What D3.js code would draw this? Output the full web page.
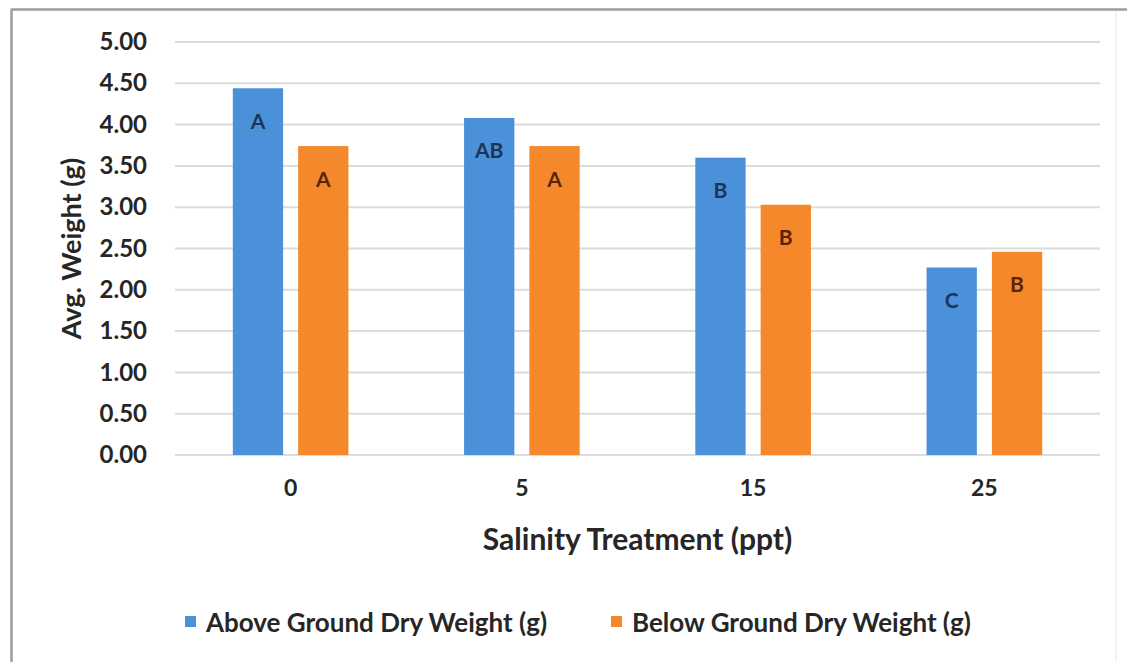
<!DOCTYPE html>
<html><head><meta charset="utf-8">
<script src="https://cdn.jsdelivr.net/npm/d3@7"></script>
<style>body{margin:0;background:#fff}svg{display:block}</style>
</head><body>
<svg id="c" width="1127" height="662"></svg>
<script>
const categories = ["0", "5", "15", "25"];
const seriesNames = ["Above Ground Dry Weight (g)", "Below Ground Dry Weight (g)"];
const aboveValues = [4.44, 4.08, 3.60, 2.27];
const belowValues = [3.74, 3.74, 3.03, 2.46];
const aboveLetters = ["A", "AB", "B", "C"];
const belowLetters = ["A", "A", "B", "B"];
const yTicks = [0, 0.5, 1, 1.5, 2, 2.5, 3, 3.5, 4, 4.5, 5];

const colors = ["#4b91da", "#f4882b"];
const letterColors = ["#1c3557", "#5a2409"];
const font = "Lato, 'Open Sans', sans-serif";

const svg = d3.select("#c");
const W = 1127, H = 662;
svg.append("rect").attr("width", W).attr("height", H).attr("fill", "#fff");

// outer frame
svg.append("line").attr("x1", 11).attr("x2", W).attr("y1", 9.5).attr("y2", 9.5).attr("stroke", "#9d9d9d").attr("stroke-width", 2.5);
svg.append("line").attr("x1", 11.5).attr("x2", 11.5).attr("y1", 9).attr("y2", H).attr("stroke", "#9d9d9d").attr("stroke-width", 2.5);
svg.append("line").attr("x1", 1116).attr("x2", 1116).attr("y1", 11).attr("y2", H).attr("stroke", "#f0f0f0").attr("stroke-width", 1.5);

const m = {left: 175, right: 1100, top: 42, bottom: 455};
const x = d3.scaleBand().domain(categories).range([m.left, m.right]).paddingInner(0.5).paddingOuter(0.25);
const xs = d3.scaleBand().domain([0, 1]).range([0, x.bandwidth()]).paddingInner(0.23);
const y = d3.scaleLinear().domain([0, 5]).range([m.bottom, m.top]);

// gridlines
svg.append("g").selectAll("line").data(yTicks).join("line")
  .attr("x1", m.left).attr("x2", m.right)
  .attr("y1", d => y(d)).attr("y2", d => y(d))
  .attr("stroke", "#dcdcdc").attr("stroke-width", 2);

// y axis
const yAxis = svg.append("g").attr("transform", `translate(${m.left},0)`)
  .call(d3.axisLeft(y).tickValues(yTicks).tickFormat(d3.format(".2f")).tickSize(0).tickPadding(28));
yAxis.select(".domain").remove();
yAxis.selectAll("text").attr("font-family", font).attr("font-size", 24).attr("font-weight", 700).attr("fill", "#262626");

// x axis
const xAxis = svg.append("g").attr("transform", `translate(0,${m.bottom})`)
  .call(d3.axisBottom(x).tickSize(0).tickPadding(25));
xAxis.select(".domain").remove();
xAxis.selectAll("text").attr("font-family", font).attr("font-size", 23).attr("font-weight", 700).attr("fill", "#262626");

// bars
const series = [aboveValues, belowValues];
const letters = [aboveLetters, belowLetters];
series.forEach((vals, si) => {
  const g = svg.append("g");
  g.selectAll("rect").data(vals).join("rect")
    .attr("x", (d, i) => x(categories[i]) + xs(si))
    .attr("width", xs.bandwidth())
    .attr("y", d => y(d))
    .attr("height", d => y(0) - y(d))
    .attr("fill", colors[si]);
  g.selectAll("text").data(vals).join("text")
    .attr("x", (d, i) => x(categories[i]) + xs(si) + xs.bandwidth() / 2)
    .attr("y", d => y(d) + 32)
    .attr("text-anchor", "middle").attr("dominant-baseline", "central")
    .attr("font-family", font).attr("font-size", 21).attr("font-weight", 700)
    .attr("fill", letterColors[si])
    .text((d, i) => letters[si][i]);
});

// axis titles
svg.append("text").attr("x", (m.left + m.right) / 2).attr("y", 538)
  .attr("text-anchor", "middle").attr("dominant-baseline", "central")
  .attr("font-family", font).attr("font-size", 30).attr("font-weight", 700).attr("fill", "#262626")
  .text("Salinity Treatment (ppt)");
svg.append("text").attr("transform", `translate(70,${(m.top + m.bottom) / 2}) rotate(-90)`)
  .attr("text-anchor", "middle").attr("dominant-baseline", "central")
  .attr("font-family", font).attr("font-size", 27).attr("font-weight", 700).attr("fill", "#262626")
  .text("Avg. Weight (g)");

// legend
const legendX = [185, 611];
const leg = svg.append("g");
seriesNames.forEach((name, i) => {
  leg.append("rect").attr("x", legendX[i]).attr("y", 616).attr("width", 11).attr("height", 11).attr("fill", colors[i]);
  leg.append("text").attr("x", legendX[i] + 21).attr("y", 622)
    .attr("dominant-baseline", "central")
    .attr("font-family", font).attr("font-size", 26).attr("font-weight", 700).attr("fill", "#262626")
    .text(name);
});
</script>
</body></html>
